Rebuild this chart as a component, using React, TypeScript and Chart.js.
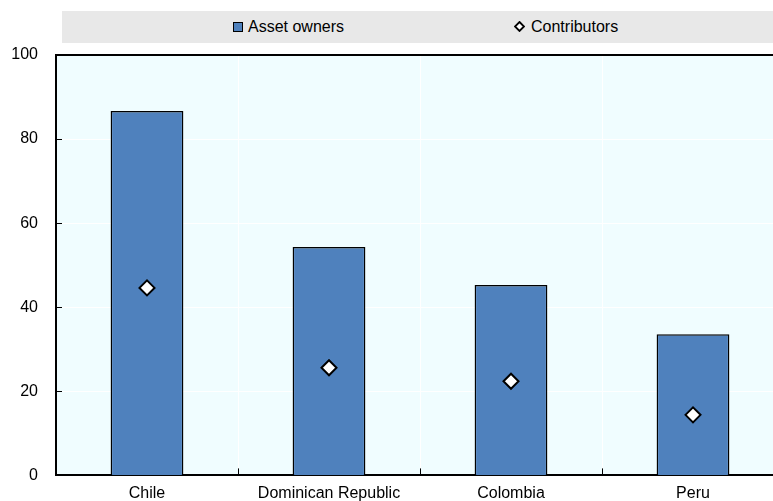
import React, { useEffect, useRef } from "react";
import { Chart, registerables } from "chart.js";

Chart.register(...registerables);

const categories = ["Chile", "Dominican Republic", "Colombia", "Peru"];
const assetOwners = [86.7, 54.3, 45.3, 33.6];
const contributors = [44.6, 25.6, 22.4, 14.4];
const yTicks = [0, 20, 40, 60, 80, 100];
const seriesLabels = ["Asset owners", "Contributors"];

const BAR = "#4f81bd";
const PLOT_BG = "#f0fdff";
const FONT = "'Liberation Sans', Arial, sans-serif";

const plotDecor = {
  id: "plotDecor",
  beforeDraw(chart: any) {
    const { ctx, chartArea } = chart;
    ctx.save();
    ctx.fillStyle = PLOT_BG;
    ctx.fillRect(chartArea.left, chartArea.top, chartArea.right - chartArea.left, chartArea.bottom - chartArea.top);
    ctx.restore();
  },
  afterDraw(chart: any) {
    const { ctx, chartArea } = chart;
    ctx.save();
    ctx.strokeStyle = "#000";
    ctx.lineWidth = 2;
    ctx.beginPath();
    ctx.moveTo(chartArea.left - 1, chartArea.top);
    ctx.lineTo(chartArea.right, chartArea.top);
    ctx.stroke();
    ctx.restore();
  },
};

export default function App() {
  const ref = useRef<HTMLCanvasElement | null>(null);

  useEffect(() => {
    if (!ref.current) return;
    const chart = new Chart(ref.current, {
      type: "bar",
      data: {
        labels: categories,
        datasets: [
          {
            type: "bar",
            label: seriesLabels[0],
            data: assetOwners,
            backgroundColor: BAR,
            borderColor: "#000",
            borderWidth: 1.5,
            barPercentage: 0.4,
            categoryPercentage: 1,
            order: 2,
          },
          {
            type: "line",
            label: seriesLabels[1],
            data: contributors,
            showLine: false,
            pointStyle: "rectRot",
            pointRadius: 7.5,
            pointBackgroundColor: "#fff",
            pointBorderColor: "#000",
            pointBorderWidth: 2,
            order: 1,
          },
        ],
      } as any,
      options: {
        responsive: false,
        animation: false,
        devicePixelRatio: 1,
        layout: { autoPadding: false, padding: { top: 55, right: 16, left: 0, bottom: 0 } },
        plugins: { legend: { display: false }, tooltip: { enabled: false } },
        scales: {
          x: {
            offset: true,
            grid: {
              offset: true,
              color: "#ffffff",
              lineWidth: 1,
              tickColor: "#000",
              tickLength: -7,
              drawOnChartArea: true,
            },
            border: { color: "#000", width: 2 },
            ticks: { color: "#000", padding: 16, font: { family: FONT, size: 16 }, maxRotation: 0 },
            afterFit: (s: any) => {
              s.height = 26;
            },
          },
          y: {
            min: 0,
            max: 100,
            grid: { color: "#ffffff", lineWidth: 1, tickColor: "#000", tickLength: -6 },
            border: { color: "#000", width: 2 },
            ticks: { color: "#000", padding: 24, font: { family: FONT, size: 16 } },
            afterBuildTicks: (s: any) => {
              s.ticks = yTicks.map((v) => ({ value: v }));
            },
            afterFit: (s: any) => {
              s.width = 56;
            },
          },
        },
      } as any,
      plugins: [plotDecor],
    });
    return () => chart.destroy();
  }, []);

  return (
    <div style={{ position: "absolute", left: 0, top: 0, width: 773, height: 501, overflow: "hidden", background: "#fff" }}>
      <canvas ref={ref} width={800} height={509} style={{ position: "absolute", left: 0, top: 0, width: 800, height: 509 }} />
      <div
        style={{
          position: "absolute",
          left: 62,
          top: 11,
          width: 722,
          height: 32,
          background: "#e8e8e8",
          fontFamily: FONT,
          fontSize: 16,
          color: "#000",
        }}
      >
        <div style={{ position: "absolute", left: 171, top: 0, height: 31, display: "flex", alignItems: "center" }}>
          <span
            style={{
              display: "inline-block",
              width: 10,
              height: 10,
              background: BAR,
              border: "1.5px solid #000",
              boxSizing: "border-box",
              marginRight: 5,
            }}
          />
          <span>{seriesLabels[0]}</span>
        </div>
        <div style={{ position: "absolute", left: 452, top: 0, height: 31, display: "flex", alignItems: "center" }}>
          <svg width={11} height={11} style={{ marginRight: 6, display: "block" }}>
            <polygon points="5.5,1 10,5.5 5.5,10 1,5.5" fill="#fff" stroke="#000" strokeWidth={1.8} />
          </svg>
          <span>{seriesLabels[1]}</span>
        </div>
      </div>
    </div>
  );
}
